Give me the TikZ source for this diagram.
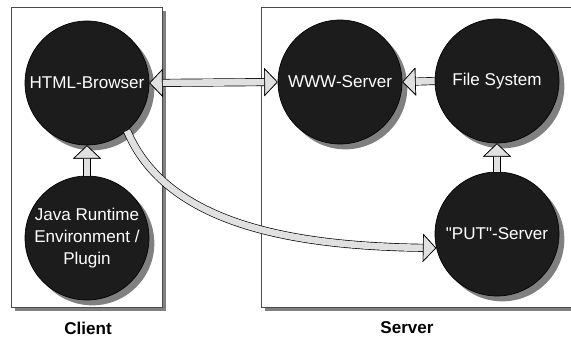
\documentclass[tikz,border=0pt]{standalone}
\usepackage{fontspec}
\newfontfamily\diagfont{Liberation Sans}
\usetikzlibrary{arrows.meta,shadows,positioning}

\begin{document}
\begin{tikzpicture}[
		x=0.75pt, y=-0.75pt,
		>={Triangle[width=21pt, length=10pt, color=black, fill=black!12, line width=0.5pt]},
		font=\diagfont\fontsize{12.8}{16.5}\selectfont,
		area/.style={
			draw=black!70, fill=white, line width=0.6pt,
			drop shadow={shadow xshift=3pt, shadow yshift=-3pt, fill=black!50, opacity=1}
		},
		comp/.style={
			circle, draw=black, fill=black!89, text=white, line width=0.5pt,
			minimum size=93pt, inner sep=0pt, align=center,
			drop shadow={shadow xshift=4pt, shadow yshift=-4pt, fill=black!50, opacity=1}
		},
		flow/.style={
			draw=black!12, line width=5pt,
			preaction={draw=black, line width=6pt}
		},
		areaname/.style={font=\diagfont\fontsize{12.8}{15}\selectfont\bfseries}
		]
		\useasboundingbox (0,0) rectangle (571,342);
		
		% ---- Bereiche (Client links, Server rechts, rechts angeschnitten)
		\draw[area] (11,7) rectangle (162,307);
		\draw[area] (261,7) rectangle (580,307);
		\node[areaname] (client) at (88,328)  {Client};
		\node[areaname] (server) at (407,328) {Server};
		
		% ---- Komponenten
		\node[comp] (browser) at (87,83)  {HTML-Browser};
		\node[comp] (jre)     at (87,238) {Java Runtime\\Environment /\\Plugin};
		\node[comp] (www)     at (340,82) {WWW-Server};
		\node[comp] (fs)      at (497,81) {File System};
		\node[comp] (put)     at (497,234) {"PUT"-Server};
		
		% ---- Verbindungen
		\draw[flow, <->] (browser.east) -- (www.west);
		\draw[flow, ->] (fs.west) -- (www.east);
		\draw[flow, ->] (jre.north) -- (browser.south);
		\draw[flow, ->] (put.north) -- (fs.south);
		\draw[flow, ->] (browser.-50) .. controls +(40,95) and +(-140,-2) .. (put.193);
	\end{tikzpicture}
\end{document}
